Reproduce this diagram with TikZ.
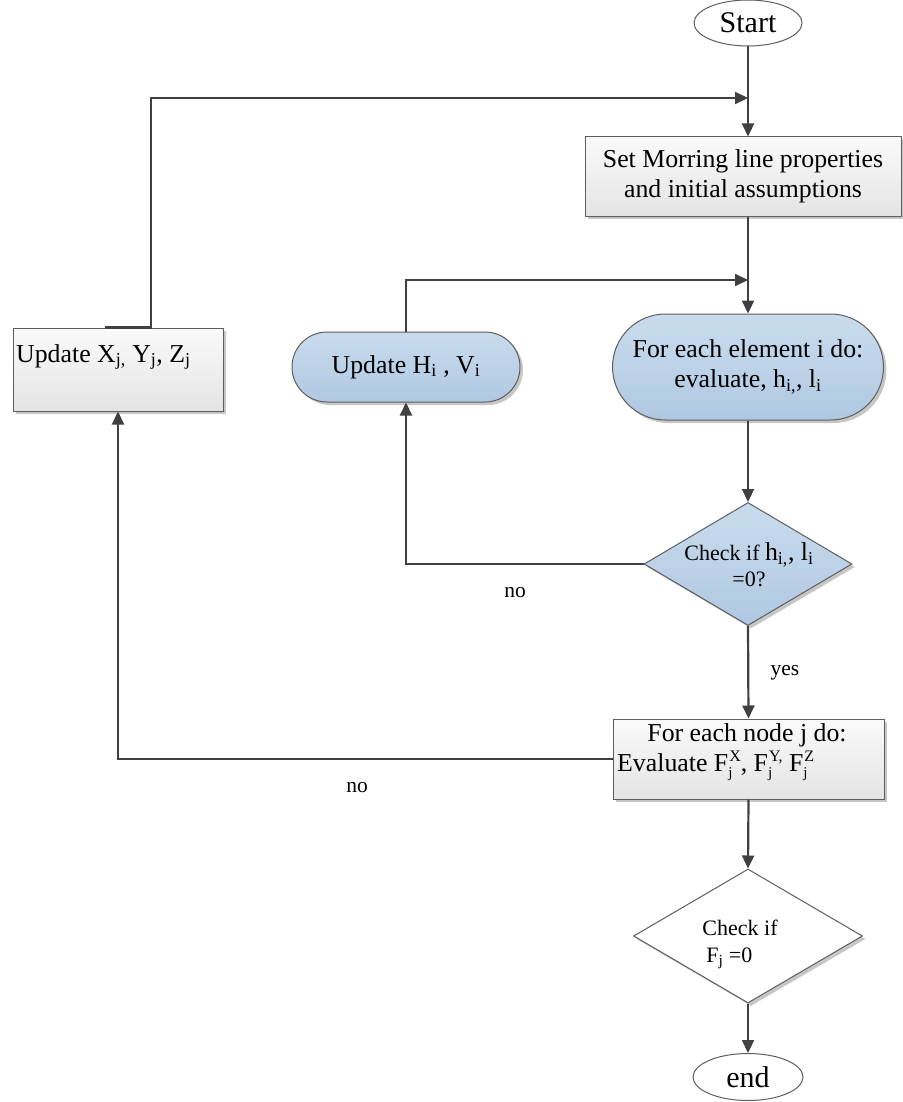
\documentclass[tikz,border=0pt]{standalone}
\usepackage{fontspec}
\setmainfont{Liberation Serif}
\usetikzlibrary{arrows.meta,shapes.geometric,shadows}

\definecolor{linegray}{HTML}{404040}
\definecolor{edgegray}{HTML}{5E5E5E}
\definecolor{bluetop}{HTML}{C9DCEE}
\definecolor{bluebot}{HTML}{AFC8E1}
\definecolor{boxtop}{HTML}{FAFAFA}
\definecolor{boxbot}{HTML}{E4E4E4}

\newcommand{\sbs}[1]{\textsubscript{#1}}
% F with a subscript j below and an index raised clear of it
\newcommand{\Fj}[1]{F\rlap{\raisebox{-6pt}{\fontsize{15}{15}\selectfont j}}%
  \kern1pt\raisebox{10pt}{\fontsize{16}{16}\selectfont #1}}

\tikzset{
  maintext/.style={font=\fontsize{25.8}{30}\selectfont},
  smalltext/.style={font=\fontsize{21.5}{26}\selectfont},
  shade/.style={drop shadow={shadow xshift=3pt,shadow yshift=-3pt,fill=black!22,opacity=1}},
  terminal/.style={ellipse,draw=edgegray,line width=1pt,fill=white,inner sep=0pt,
    font=\fontsize{30}{34}\selectfont},
  procbox/.style={rectangle,draw=edgegray,line width=1pt,top color=boxtop,bottom color=boxbot,
    shade,inner sep=0pt,maintext,align=center},
  bluestadium/.style={rectangle,draw=edgegray,line width=1pt,top color=bluetop,bottom color=bluebot,
    shade,inner sep=0pt,maintext,align=center},
  decision/.style={diamond,draw=edgegray,line width=1pt,shade,inner sep=0pt,shape aspect=1.7},
  flow/.style={draw=linegray,line width=2.2pt,-{Triangle[length=13pt,width=12pt]}},
  lbl/.style={smalltext,inner sep=0pt}
}

\begin{document}
\begin{tikzpicture}[x=1pt,y=-1pt]
\useasboundingbox (0,0) rectangle (902,1102);

% terminals
\node[terminal,minimum width=108,minimum height=46] (start) at (748,23) {Start};
\node[terminal,minimum width=110,minimum height=47] (end) at (748,1077) {end};

% set-up box
\node[procbox,minimum width=316,minimum height=79] (setup) at (743,176.5)
  {Set Morring line properties\\and initial assumptions};

% element loop
\node[bluestadium,minimum width=271,minimum height=106,rounded corners=53pt] (elem) at (748,367)
  {For each element i do:\\evaluate, h\sbs{i,}, l\sbs{i}};
\node[bluestadium,minimum width=228,minimum height=70,rounded corners=35pt] (updH) at (406,367)
  {Update H\sbs{i} , V\sbs{i}};

% first check
\node[decision,top color=bluetop,bottom color=bluebot,minimum width=208,minimum height=123] (chk1) at (748,564) {};
\node[maintext,align=center,inner sep=0pt] (chk1txt) at (749,565)
  {{\fontsize{22}{26}\selectfont Check if }h\sbs{i,}, l\sbs{i}\\[-4pt]{\fontsize{22}{26}\selectfont =0?}};

% node loop
\node[procbox,minimum width=271,minimum height=80] (nodes) at (748.5,759) {};
\node[maintext,inner sep=0pt] (nodesA) at (747,735) {For each node j do:};
\node[maintext,inner sep=0pt,anchor=west] (nodesB) at (617,766)
  {Evaluate \Fj{X}, \Fj{Y,} \Fj{Z}};

\node[procbox,minimum width=210,minimum height=83] (updX) at (118,369.5) {};
\node[maintext,inner sep=0pt,anchor=west] (updXtxt) at (16,357)
  {Update X\sbs{j,} Y\sbs{j}, Z\sbs{j}};

% second check
\node[decision,fill=white,minimum width=229,minimum height=134] (chk2) at (748,936) {};
\node[font=\fontsize{22}{27}\selectfont,align=left,inner sep=0pt] (chk2txt) at (740,944)
  {Check if\\\hspace{4pt}F\sbs{j} =0};

% junction points on the main spine
\coordinate (j1) at (748,98);
\coordinate (j2) at (748,280);

% connectors
\draw[flow] (start.south) -- (start.south |- setup.north);
\draw[flow] (elem.north |- setup.south) -- (elem.north);
\draw[flow] (updH.north) |- (j2);
\draw[flow] (elem.south) -- (chk1.north);
\draw[flow] (chk1.west) -| (updH.south);
\draw[flow] (chk1.south) -- (nodes.north);
\draw[flow] (nodes.west) -| (updX.south);
\draw[flow] ([xshift=-13pt]updX.north) -- ([xshift=33pt]updX.north) |- (j1);
\draw[flow] (nodes.south) -- (chk2.north);
\draw[flow] (chk2.south) -- (end.north);

% branch labels
\node[lbl] (no1) at (515,593) {no};
\node[lbl] (yes1) at (785,673) {yes};
\node[lbl] (no2) at (357,788) {no};
\end{tikzpicture}
\end{document}
